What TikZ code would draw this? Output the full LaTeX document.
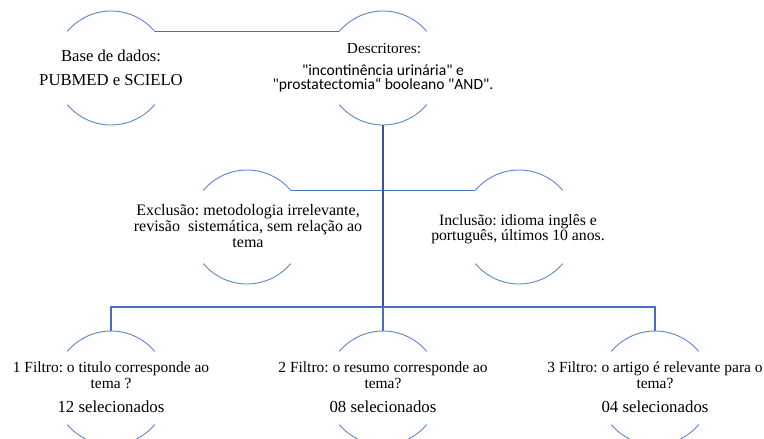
\documentclass[tikz,border=0pt]{standalone}
\usepackage{fontspec}
\setmainfont{Liberation Serif}
\newfontfamily\calibri{Carlito}[Ligatures=TeXOff]
\frenchspacing
\definecolor{arcblue}{RGB}{98,136,202}
\definecolor{lineblue}{RGB}{72,112,186}
\definecolor{trunkblue}{RGB}{50,86,158}
\tikzset{
  ring/.style={circle, minimum size=85.5pt, inner sep=0pt, outer sep=0pt},
  arcline/.style={arcblue, line width=0.7pt},
  link/.style={lineblue, line width=0.8pt},
  trunk/.style={trunkblue, line width=1.5pt},
  txt/.style={align=center, inner sep=0pt, font=\fontsize{12}{11.7}\selectfont},
}

\begin{document}
\begin{tikzpicture}[x=0.75pt, y=-0.75pt]
\useasboundingbox (0,0) rectangle (764,439);

% the circles (only their top and bottom arcs are drawn)
\node[ring] (base) at (111,68) {};
\node[ring] (desc) at (383,68) {};
\node[ring] (excl) at (247,227) {};
\node[ring] (incl) at (519,227) {};
\foreach \n/\x in {1/111,2/383,3/655}
\node[ring] (f\n) at (\x,388) {};

\foreach \c in {base,desc,excl,incl,f1,f2,f3} {
\draw[arcline] (\c.40) arc[start angle=40, end angle=140, radius=42.75pt];
\draw[arcline] (\c.220) arc[start angle=220, end angle=320, radius=42.75pt];
}

% connectors
\coordinate (bus) at (383,307);
\draw[link] (base.40) -- (desc.140);
\draw[link] (excl.40) -- (incl.140);
\draw[trunk] (desc.south) -- (bus);
\draw[link] (bus) -- (f2.north);
\draw[link] (f1.north) |- (bus) -| (f3.north);

% texts
\node[txt, font=\fontsize{12.5}{15}\selectfont] (basetxt) at (111,67.5) {Base de dados:\\[3pt]PUBMED e SCIELO};
\node[txt, font=\fontsize{11.5}{13}\selectfont] (desctitle) at (384,49) {Descritores:};
\node[txt, font=\calibri\fontsize{11.7}{10.2}\selectfont] (descterms) at (383,78.5)
{"incontinência urinária" e\\"prostatectomia“ booleano "AND".};
\node[txt] (excltxt) at (248,226) {Exclusão: metodologia irrelevante,\\revisão\ \ sistemática, sem relação ao\\tema};
\node[txt, font=\fontsize{11.8}{11.3}\selectfont] (incltxt) at (518,229) {Inclusão: idioma inglês e\\português, últimos 10 anos.};

\foreach \n/\q/\k in {1/{1 Filtro: o titulo corresponde ao\\tema ?}/12,
                      2/{2 Filtro: o resumo corresponde ao\\tema?}/08,
                      3/{3 Filtro: o artigo é relevante para o\\tema?}/04} {
\node[txt, font=\fontsize{11.6}{12}\selectfont, yshift=9.5pt] (q\n) at (f\n) {\q};
\node[txt, font=\fontsize{12.6}{15}\selectfont, yshift=-14.25pt] (k\n) at (f\n) {\k\ selecionados};
}

\end{tikzpicture}
\end{document}
